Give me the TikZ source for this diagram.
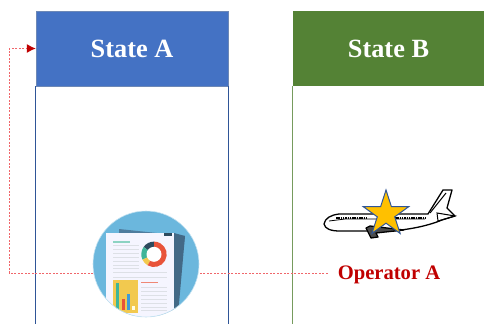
\documentclass[tikz,border=0pt]{standalone}
\usepackage{fontspec}
\setmainfont{Liberation Serif}
\usetikzlibrary{arrows.meta,positioning,shapes.geometric}
\definecolor{stateblue}{HTML}{4472C4}
\definecolor{stateedge}{HTML}{2F5597}
\definecolor{stategreen}{HTML}{548235}
\definecolor{opred}{HTML}{C00000}
\definecolor{linkred}{HTML}{F0666A}
\definecolor{stargold}{HTML}{FFC000}
\definecolor{iconsky}{HTML}{6BB7DD}
\definecolor{iconsheet}{HTML}{4F7C9E}
\definecolor{iconline}{HTML}{DDE0E6}
\definecolor{iconyellow}{HTML}{F2C94F}
\definecolor{iconteal}{HTML}{3FB59A}
\definecolor{iconred}{HTML}{E8533A}
\definecolor{icondark}{HTML}{2D4A5E}
\definecolor{iconblue}{HTML}{3F9BD6}

\tikzset{
  statehead/.style={rectangle, minimum width=192pt, minimum height=75pt, inner sep=0pt,
    text=white, font=\fontsize{26.3}{30}\selectfont\bfseries},
  oplabel/.style={inner sep=10pt, text=opred, font=\fontsize{20.6}{24}\selectfont\bfseries},
  oplink/.style={draw=linkred, line width=1pt, dash pattern=on 2pt off 1.5pt,
    -{Latex[length=9pt,width=9pt,color=opred,fill=opred]}},
  docicon/.style={circle, fill=iconsky, minimum size=106pt, inner sep=0pt},
  planeline/.style={black, line width=1.3pt, line join=round},
  staricon/.style={star, star points=5, star point ratio=2.618, minimum size=48pt, inner sep=0pt,
    fill=stargold, draw=stateedge, line width=1pt}
}

\begin{document}
\begin{tikzpicture}[x=1pt, y=-1pt]
  \useasboundingbox (0,0) rectangle (484,324);

  % Define nodes
  \node[statehead, fill=stateblue, draw=stateedge!70]  (stateA) at (132,48.5) {State A};
  \node[statehead, fill=stategreen, minimum width=191pt]  (stateB) at (388.5,48.5) {State B};
  \node[oplabel]  (opA) at (389,275) {Operator A};
  \coordinate (turn) at (9,273);

  % columns under the heads
  \draw[stateedge, line width=0.8pt] (stateA.south west) -- (stateA.south west |- 0,324);
  \draw[stateedge, line width=0.8pt] (stateA.south east) -- (stateA.south east |- 0,324);
  \draw[stategreen!80, line width=0.8pt] (stateB.south west) -- (stateB.south west |- 0,324);

  \draw[oplink] (opA.west |- turn) -- (turn) |- (stateA.west);

  % report icon
  \node[docicon]  (doc) at (146,264) {};
  \begin{scope}
    \clip (doc) circle (53);
    \fill[iconsheet] (119,229) -- (185,236) -- (175,315) -- (119,315) -- cycle;
    \fill[iconsheet!85!black] (174,233) -- (185,236) -- (178,315) -- (170,315) -- cycle;
    \fill[white!96!blue] (106,233) rectangle (174,320);
    \draw[iconteal!60, line width=1.2pt] (113,242) -- (130,242);
    \foreach \y in {245,249,253,257,261,265,268}
      \draw[iconline, line width=1pt] (113,\y) -- (139,\y);
    \foreach \y in {272.5,277}
      \draw[iconline, line width=1pt] (113,\y) -- (167,\y);
    \foreach \y in {287,291,295,299,303,307,310}
      \draw[iconline, line width=1pt] (141,\y) -- (167,\y);
    \draw[iconred!70, line width=1pt] (141,282.5) -- (158,282.5);
    % donut
    \foreach \a/\b/\c in {-90/-145/icondark, -145/-205/iconteal, -205/-240/iconyellow, -240/-450/iconred}
      \fill[\c] (154,254.3) -- ++(\a:12.7) arc[start angle=\a, end angle=\b, radius=12.7] -- cycle;
    \fill[white] (154,254.3) circle (7.5);
    % bar chart
    \fill[iconyellow] (112.7,280) rectangle (138.3,312.7);
    \fill[iconteal] (116,282.5) rectangle (119,310);
    \fill[iconred] (121.5,298.5) rectangle (124.5,310);
    \fill[iconblue] (127,293.5) rectangle (130,310);
    \fill[white!90!yellow] (132,305.5) rectangle (135,310);
    \fill[icondark] (163.5,232.5) rectangle (171.5,236);
  \end{scope}
  \draw[white!60!iconsky, line width=0.6pt] (doc) circle (53);

  % airplane
  \draw[planeline, fill=white] (324,224) .. controls (325,218) and (331,215) .. (339,214)
    -- (428,214) -- (443,190) -- (452,190) -- (447,208) -- (455,216) -- (442,220)
    .. controls (425,227) and (405,230) .. (390,231) -- (340,231)
    .. controls (331,231) and (325,229) .. (324,224) -- cycle;
  \draw[black, line width=0.8pt] (329,221) -- (345,219) -- (425,219);
  \draw[black, line width=1.8pt, dash pattern=on 1.5pt off 0.8pt] (336,218) -- (368,218);
  \draw[black, line width=1.8pt, dash pattern=on 1.5pt off 0.8pt] (395,218) -- (426,218);
  \draw[planeline, fill=black!70] (366,228) -- (371,238) -- (378,237) -- (376,233) -- (404,230) -- (370,226) -- cycle;
  \draw[black, line width=1pt] (437,213) -- (455,216) -- (438,221) -- cycle;
  \draw[black, line width=1pt] (430,213) -- (446,193);
  \node[staricon]  (star) at (386,214) {};
\end{tikzpicture}
\end{document}
